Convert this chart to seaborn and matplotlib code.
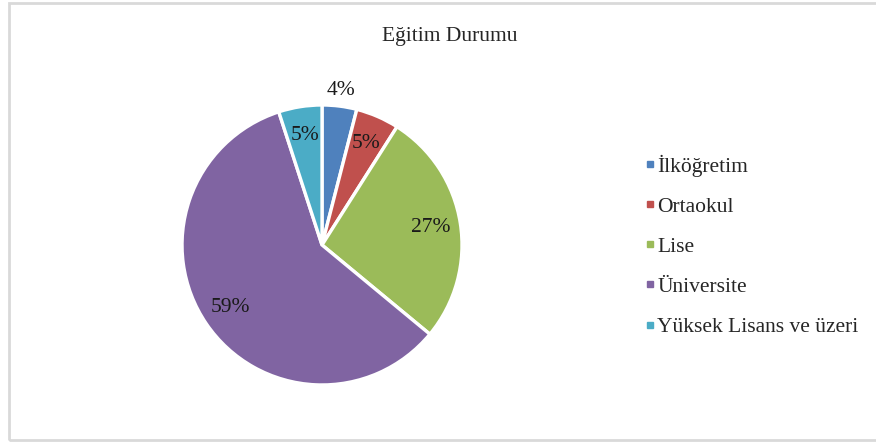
"""
Eğitim Durumu pie chart (Excel-style).
"""

import numpy as np
import matplotlib.pyplot as plt
import matplotlib.patches as mpatches
from matplotlib.lines import Line2D
import seaborn as sns

# ---------------------------------------------------------------------------
# Data
# ---------------------------------------------------------------------------

CATEGORIES = ["İlköğretim", "Ortaokul", "Lise", "Üniversite", "Yüksek Lisans ve üzeri"]
SHARES = [4, 5, 27, 59, 5]
COLORS = ["#4F81BD", "#C0504D", "#9BBB59", "#8064A2", "#4BACC6"]
TITLE = "Eğitim Durumu"

# ---------------------------------------------------------------------------
# Style
# ---------------------------------------------------------------------------

sns.set_theme(style="white")
plt.rcParams["font.family"] = ["Liberation Serif", "DejaVu Serif"]
palette = sns.color_palette(COLORS)

fig = plt.figure(figsize=(8.76, 4.43), dpi=100)

# light gray frame around the chart area
frame = mpatches.Rectangle((9 / 876, 3 / 443), 1.0, 437 / 443, transform=fig.transFigure,
                           fill=False, edgecolor="#D9D9D9", linewidth=2)
fig.patches.append(frame)

ax = fig.add_axes([0.2078, 0.131, 0.3196, 0.632])
wedges, texts, autotexts = ax.pie(
    SHARES, colors=palette, startangle=90, counterclock=False,
    autopct="%1.0f%%", pctdistance=0.79,
    wedgeprops={"edgecolor": "white", "linewidth": 2.4},
    textprops={"fontsize": 15.5, "color": "#1a1a1a"},
)
ax.set_xlim(-1, 1)
ax.set_ylim(-1, 1)
ax.set_aspect("equal")

# smallest slice label sits just outside the pie
w = wedges[0]
mid = np.deg2rad((w.theta1 + w.theta2) / 2)
autotexts[0].set_position((1.11 * np.cos(mid), 1.11 * np.sin(mid)))

fig.text(450 / 876, 1 - 36 / 443, TITLE, ha="center", va="center", fontsize=15.5)

handles = [Line2D([0], [0], marker="s", linestyle="none", markersize=5,
                  markerfacecolor=c, markeredgecolor=c) for c in palette]
fig.legend(handles, CATEGORIES, loc="center left", bbox_to_anchor=(0.712, 0.445),
           frameon=False, fontsize=15.5, labelspacing=0.93, handletextpad=0.05,
           handlelength=0.6)

fig.savefig("out.png", dpi=100)
